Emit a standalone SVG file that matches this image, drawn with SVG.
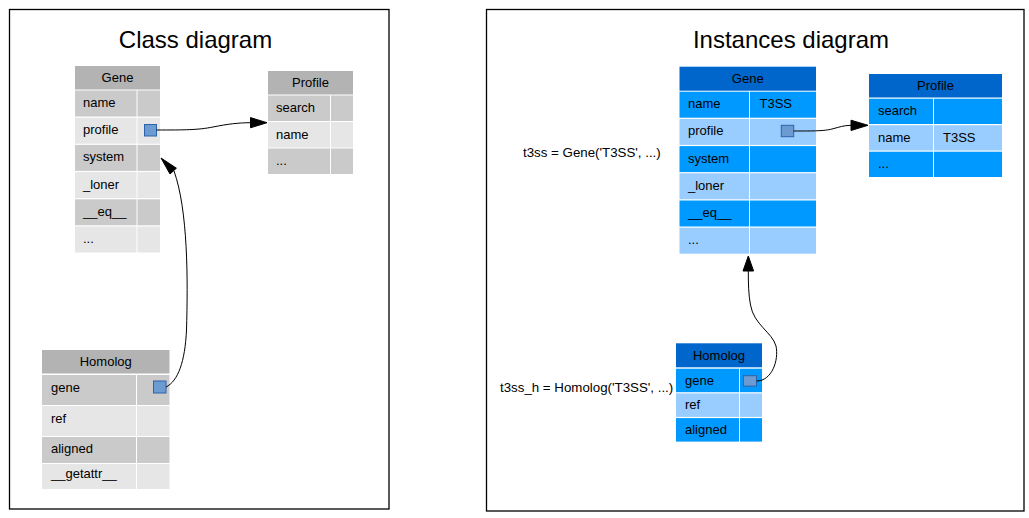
<svg xmlns="http://www.w3.org/2000/svg" width="1029" height="518" viewBox="0 0 1029 518">
  <style>
    text { font-family: "Liberation Sans", Arial, sans-serif; fill: #000; }
    .title { font-size: 24px; text-anchor: middle; }
    .t { font-size: 13px; }
    .h { font-size: 13px; text-anchor: middle; }
    .lbl { font-size: 13.3px; }
    .frame { fill: #fff; stroke: #000; stroke-width: 1.3; }
    .hg { fill: #b3b3b3; }
    .dg { fill: #cacaca; }
    .lg { fill: #e6e6e6; }
    .hb { fill: #0066cc; }
    .db { fill: #0099ff; }
    .lb { fill: #99ccff; }
    .port { fill: #6b9bd0; stroke: #2f62ac; stroke-width: 1; }
    .edge { fill: none; stroke: #000; stroke-width: 1; }
    .head { fill: #000; stroke: #000; stroke-width: 1; }
  </style>

  <!-- panels -->
  <rect class="frame" x="9.5" y="9.5" width="379.5" height="499.5"/>
  <rect class="frame" x="486.5" y="9.5" width="537.5" height="501.5"/>
  <text class="title" x="195.5" y="48">Class diagram</text>
  <text class="title" x="791" y="48">Instances diagram</text>

  <!-- class side: Gene -->
  <g id="class-gene">
    <rect class="hg" x="75" y="66" width="85" height="23.5"/>
    <text class="h" x="117.5" y="82">Gene</text>
    <rect class="dg" x="75" y="90.5" width="61.5" height="26"/><rect class="dg" x="137.5" y="90.5" width="22.5" height="26"/>
    <rect class="lg" x="75" y="117.7" width="61.5" height="26"/><rect class="lg" x="137.5" y="117.7" width="22.5" height="26"/>
    <rect class="dg" x="75" y="144.9" width="61.5" height="26"/><rect class="dg" x="137.5" y="144.9" width="22.5" height="26"/>
    <rect class="lg" x="75" y="172.1" width="61.5" height="26"/><rect class="lg" x="137.5" y="172.1" width="22.5" height="26"/>
    <rect class="dg" x="75" y="199.3" width="61.5" height="26"/><rect class="dg" x="137.5" y="199.3" width="22.5" height="26"/>
    <rect class="lg" x="75" y="226.5" width="61.5" height="26"/><rect class="lg" x="137.5" y="226.5" width="22.5" height="26"/>
    <text class="t" x="83" y="107">name</text>
    <text class="t" x="83" y="134.2">profile</text>
    <text class="t" x="83" y="161.4">system</text>
    <text class="t" x="83" y="188.6">_loner</text>
    <text class="t" x="83" y="215.8">__eq__</text>
    <text class="t" x="83" y="243">...</text>
    <rect class="port" x="144.5" y="124.5" width="12" height="11.5"/>
  </g>

  <!-- class side: Profile -->
  <g id="class-profile">
    <rect class="hg" x="268" y="71" width="85" height="23.5"/>
    <text class="h" x="310.5" y="87">Profile</text>
    <rect class="dg" x="268" y="95.5" width="62" height="25.5"/><rect class="dg" x="331" y="95.5" width="22" height="25.5"/>
    <rect class="lg" x="268" y="122" width="62" height="25.5"/><rect class="lg" x="331" y="122" width="22" height="25.5"/>
    <rect class="dg" x="268" y="148.5" width="62" height="25.5"/><rect class="dg" x="331" y="148.5" width="22" height="25.5"/>
    <text class="t" x="276" y="112">search</text>
    <text class="t" x="276" y="138.5">name</text>
    <text class="t" x="276" y="165">...</text>
  </g>

  <!-- class side: Homolog -->
  <g id="class-homolog">
    <rect class="hg" x="42" y="350" width="127.5" height="23.5"/>
    <text class="h" x="105.75" y="366">Homolog</text>
    <rect class="dg" x="42" y="375" width="94" height="30"/><rect class="dg" x="137" y="375" width="32.5" height="30"/>
    <rect class="lg" x="42" y="406" width="94" height="30"/><rect class="lg" x="137" y="406" width="32.5" height="30"/>
    <rect class="dg" x="42" y="437" width="94" height="26"/><rect class="dg" x="137" y="437" width="32.5" height="26"/>
    <rect class="lg" x="42" y="464" width="94" height="25"/><rect class="lg" x="137" y="464" width="32.5" height="25"/>
    <text class="t" x="51" y="391.5">gene</text>
    <text class="t" x="51" y="422.5">ref</text>
    <text class="t" x="51" y="452.7">aligned</text>
    <text class="t" x="51" y="478">__getattr__</text>
    <rect class="port" x="153.5" y="381" width="12.5" height="12"/>
  </g>

  <!-- instance side: Gene -->
  <g id="inst-gene">
    <rect class="hb" x="679.5" y="66.7" width="136.5" height="24"/>
    <text class="h" x="747.75" y="83.2">Gene</text>
    <rect class="db" x="679.5" y="91.7" width="69.5" height="26"/><rect class="db" x="750" y="91.7" width="66" height="26"/>
    <rect class="lb" x="679.5" y="118.9" width="69.5" height="26"/><rect class="lb" x="750" y="118.9" width="66" height="26"/>
    <rect class="db" x="679.5" y="146.1" width="69.5" height="26"/><rect class="db" x="750" y="146.1" width="66" height="26"/>
    <rect class="lb" x="679.5" y="173.3" width="69.5" height="26"/><rect class="lb" x="750" y="173.3" width="66" height="26"/>
    <rect class="db" x="679.5" y="200.5" width="69.5" height="26"/><rect class="db" x="750" y="200.5" width="66" height="26"/>
    <rect class="lb" x="679.5" y="227.7" width="69.5" height="26"/><rect class="lb" x="750" y="227.7" width="66" height="26"/>
    <text class="t" x="688" y="108.2">name</text>
    <text class="t" x="759.5" y="108.2">T3SS</text>
    <text class="t" x="688" y="135.4">profile</text>
    <text class="t" x="688" y="162.6">system</text>
    <text class="t" x="688" y="189.8">_loner</text>
    <text class="t" x="688" y="217">__eq__</text>
    <text class="t" x="688" y="244.2">...</text>
    <rect class="port" x="781.3" y="125.3" width="12.4" height="11.4"/>
  </g>

  <!-- instance side: Profile -->
  <g id="inst-profile">
    <rect class="hb" x="869" y="74" width="133" height="23.5"/>
    <text class="h" x="935.5" y="90">Profile</text>
    <rect class="db" x="869" y="98.7" width="64" height="25.3"/><rect class="db" x="934" y="98.7" width="68" height="25.3"/>
    <rect class="lb" x="869" y="125.2" width="64" height="25.3"/><rect class="lb" x="934" y="125.2" width="68" height="25.3"/>
    <rect class="db" x="869" y="151.7" width="64" height="25.3"/><rect class="db" x="934" y="151.7" width="68" height="25.3"/>
    <text class="t" x="878" y="115">search</text>
    <text class="t" x="878" y="141.5">name</text>
    <text class="t" x="943" y="141.5">T3SS</text>
    <text class="t" x="878" y="168">...</text>
  </g>

  <!-- instance side: Homolog -->
  <g id="inst-homolog">
    <rect class="hb" x="676" y="343.3" width="86" height="24"/>
    <text class="h" x="719" y="359.8">Homolog</text>
    <rect class="db" x="676" y="368.7" width="63" height="23.5"/><rect class="db" x="740" y="368.7" width="22" height="23.5"/>
    <rect class="lb" x="676" y="393.4" width="63" height="23.5"/><rect class="lb" x="740" y="393.4" width="22" height="23.5"/>
    <rect class="db" x="676" y="418.1" width="63" height="23.5"/><rect class="db" x="740" y="418.1" width="22" height="23.5"/>
    <text class="t" x="685" y="384.5">gene</text>
    <text class="t" x="685" y="409.2">ref</text>
    <text class="t" x="685" y="433.9">aligned</text>
    <rect class="port" x="743.3" y="375.7" width="13.2" height="10.4"/>
  </g>

  <!-- instance labels -->
  <g id="labels">
    <text class="lbl" x="523" y="157">t3ss = Gene('T3SS', ...)</text>
    <text class="lbl" x="500" y="391.5">t3ss_h = Homolog('T3SS', ...)</text>
  </g>

  <!-- references between fields -->
  <g id="connectors">
    <path class="edge" d="M156.5,130 C185,130 198,130 213,127 C228,124 238,122.8 250.5,122.7"/>
    <polygon class="head" points="267,122.7 250.5,117.6 250.5,127.8"/>
    <path class="edge" d="M166,387 C178,381 185,362 186.5,330 C188,280 188,210 174,171"/>
    <polygon class="head" points="161,158 176.4,168.2 170,174"/>
    <path class="edge" d="M793.7,131 C815,131 824,131 832,129 C840,127 843,125.5 851,125.3"/>
    <polygon class="head" points="868,125.3 851,120.2 851,130.5"/>
    <path class="edge" d="M756.5,381 C772,381 779,360 776,346 C772,332 754,325 750.5,305 C748.5,295 748.3,283 748.3,271"/>
    <polygon class="head" points="748.3,256 743,271 753.6,271"/>
  </g>
</svg>
